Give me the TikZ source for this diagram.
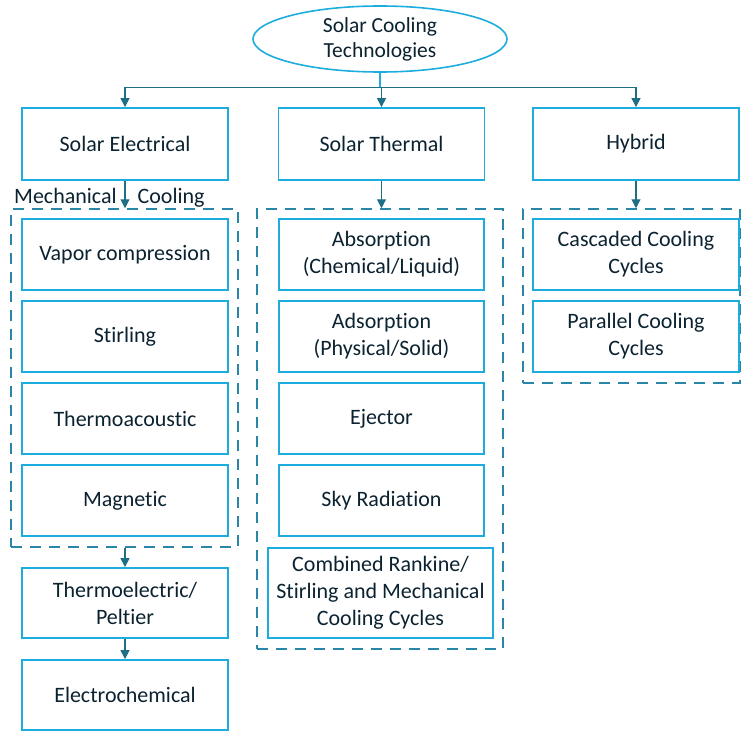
\documentclass[tikz,border=0pt]{standalone}
\usepackage{fontspec}
\setmainfont{Carlito}[Ligatures=NoCommon]
\usetikzlibrary{shapes.geometric,arrows.meta}
\definecolor{boxcyan}{HTML}{1CACDE}
\definecolor{arrowteal}{HTML}{1E6F86}
\definecolor{dashteal}{HTML}{2A86A6}
\definecolor{textnavy}{HTML}{0B2230}
\begin{document}
\begin{tikzpicture}[x=1pt,y=-1pt]
    \tikzstyle{root}=[ellipse,draw=boxcyan,line width=1.6pt,minimum width=254pt,minimum height=66pt,inner sep=0pt,align=center,text=textnavy,font=\fontsize{21.5}{25}\selectfont]
    \tikzstyle{tech}=[rectangle,draw=boxcyan,line width=1.8pt,minimum width=206pt,minimum height=71pt,inner sep=0pt,align=center,text=textnavy,font=\fontsize{22}{27}\selectfont]
    \tikzstyle{group}=[rectangle,draw=dashteal,line width=1.5pt,dash pattern=on 11pt off 8pt,inner sep=0pt]
    \tikzstyle{edge}=[draw,line width=1.1pt,arrowteal,-{Triangle[width=9pt,length=9pt]}]
    \useasboundingbox (0,0) rectangle (742,731);
    \begin{scope}
        \node [root] (sct) at (380,39) {Solar Cooling\\Technologies};
        \node [tech,minimum height=72pt] (se) at (125,144) {Solar Electrical};
        \node [tech,minimum height=72pt] (st) at (381.5,144) {Solar Thermal};
        \node [tech,minimum height=72pt] (hy) at (636,144) {Hybrid};
        % dashed groups
        \node [group,minimum width=227pt,minimum height=338pt] (mech) at (124.5,378) {};
        \node [group,minimum width=246pt,minimum height=440pt] (therm) at (380,429) {};
        \node [group,minimum width=217pt,minimum height=174pt] (hyb) at (631.5,296) {};
        \node [anchor=base west,inner sep=0pt,text=textnavy,font=\fontsize{22}{27}\selectfont] (mechlabel) at (14,203) {Mechanical\hspace{21pt}Cooling};
        % solar electrical
        \node [tech] (vc) at (125,254.5) {Vapor compression};
        \node [tech] (stir) at (125,336.5) {Stirling};
        \node [tech] (ta) at (125,418.5) {Thermoacoustic};
        \node [tech] (mag) at (125,500.5) {Magnetic};
        \node [tech,minimum height=70pt] (tep) at (125,603) {Thermoelectric/\\Peltier};
        \node [tech,minimum height=70pt] (ec) at (125,695) {Electrochemical};
        % solar thermal
        \node [tech,minimum width=205pt] (abs) at (381.5,254.5) {Absorption\\(Chemical/Liquid)};
        \node [tech,minimum width=205pt] (ads) at (381.5,336.5) {Adsorption\\(Physical/Solid)};
        \node [tech,minimum width=205pt] (ej) at (381.5,418.5) {Ejector};
        \node [tech,minimum width=205pt] (sky) at (381.5,500.5) {Sky Radiation};
        \node [tech,minimum width=225pt,minimum height=90pt] (crs) at (380.5,593) {Combined Rankine/\\Stirling and Mechanical\\Cooling Cycles};
        % hybrid
        \node [tech] (ccc) at (636,254.5) {Cascaded Cooling\\Cycles};
        \node [tech] (pcc) at (636,336.5) {Parallel Cooling\\Cycles};
        \draw [boxcyan,line width=1.6pt] (sct.south) -- ++(0,15) coordinate (bus);
        \path[edge] (bus) -| (se.north);
        \path[edge] (bus) -| (st.north);
        \path[edge] (bus) -| (hy.north);
        \path[edge] (se.south) -- (mech.north -| se.south);
        \path[edge] (st.south) -- (therm.north -| st.south);
        \path[edge] (hy.south) -- (hyb.north -| hy.south);
        \path[edge] (mech.south -| tep.north) -- (tep.north);
        \path[edge] (tep.south) -- (ec.north);
    \end{scope}
\end{tikzpicture}
\end{document}
